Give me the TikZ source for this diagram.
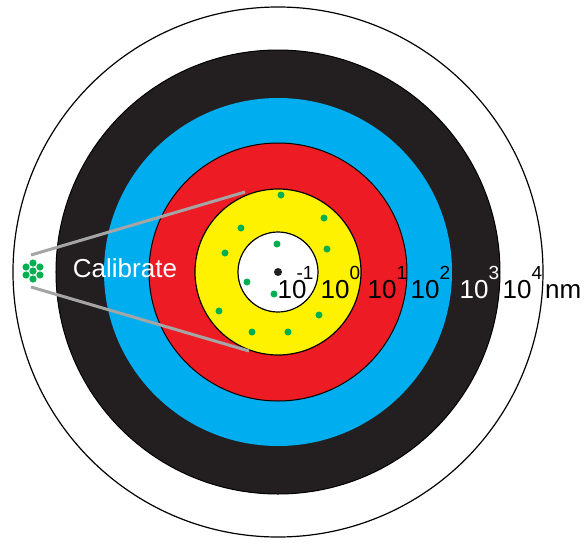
\documentclass[tikz,border=0pt]{standalone}
\usepackage{fontspec}
\setmainfont{Liberation Sans}
\definecolor{ring_black}{RGB}{35, 31, 32}
\definecolor{ring_blue}{RGB}{0, 174, 239}
\definecolor{ring_red}{RGB}{237, 28, 36}
\definecolor{ring_yellow}{RGB}{255, 242, 0}
\definecolor{dot_green}{RGB}{0, 176, 80}
\definecolor{line_grey}{RGB}{165, 165, 165}
\newcommand{\tenpow}[2][0pt]{{\fontsize{26}{26}\selectfont 10}\kern#1\raisebox{19pt}{\fontsize{19}{19}\selectfont #2}}

\begin{document}
\begin{tikzpicture}[x=1pt, y=1pt, every node/.style={inner sep=0pt, anchor=base west}]
        \useasboundingbox (-278,-270) rectangle (306,272);

        % Target rings
        \draw[line width=1.2pt, fill=white] (0,0) circle (265);
        \draw[line width=1pt, fill=ring_black] (0,0) circle (222);
        \fill[ring_blue] (0,0) circle (174);
        \draw[line width=1pt, fill=ring_red] (0,0) circle (129);
        \draw[line width=1.2pt, fill=ring_yellow] (0,0) circle (83);
        \draw[line width=1.2pt, fill=white] (0,0) circle (40);

        % Particles
        \foreach \p in {(3,77), (46,54), (-37,44), (-53,19), (49,23), (-59,-39), (41,-43), (-26,-60), (10,-60), (-1,28), (-31,-10), (-4,-22)}
            \fill[dot_green] \p circle (3.5);
        \fill[ring_black] (0,0) circle (4);

        % Calibration cluster
        \coordinate (cluster) at (-245,1);
        \fill[dot_green] (cluster) circle (3.6);
        \foreach \a in {30,90,...,330}
            \fill[dot_green] (cluster) ++(\a:8) circle (3.6);

        % Zoom lines
        \coordinate (zoom_top) at (-247,17);
        \coordinate (zoom_bot) at (-247,-15);
        \coordinate (ring_top) at (-33,80);
        \coordinate (ring_bot) at (-29,-79);
        \draw[line_grey, line width=3pt] (zoom_top) -- (ring_top);
        \draw[line_grey, line width=3pt] (zoom_bot) -- (ring_bot);

        % Labels
        \node[white, anchor=center, font=\fontsize{26}{26}\selectfont] (calib) at (-153,3.5) {Calibrate};
        \node (p_m1) at (-0.5,-26) {\tenpow[-10pt]{-1}};
        \node (p_0) at (42.5,-26) {\tenpow{0}};
        \node (p_1) at (89.5,-26) {\tenpow{1}};
        \node (p_2) at (132.5,-26) {\tenpow{2}};
        \node[white] (p_3) at (181.5,-26) {\tenpow{3}};
        \node (p_4) at (224.5,-26) {\tenpow{4}};
        \node[font=\fontsize{26}{26}\selectfont] (unit) at (267,-26) {nm};
    \end{tikzpicture}
\end{document}
